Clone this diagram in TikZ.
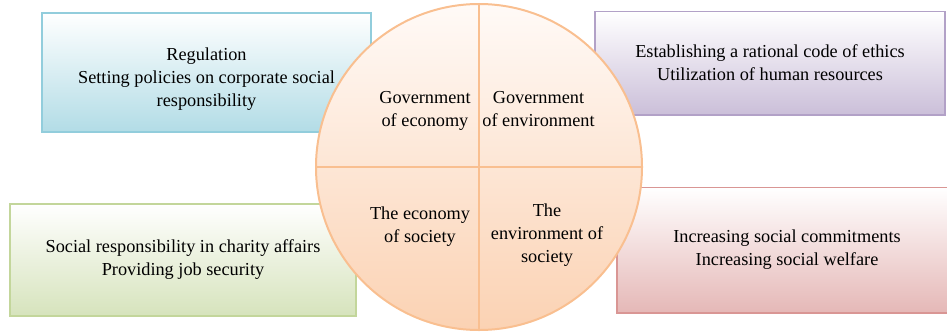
\documentclass[tikz,border=0pt]{standalone}
\usepackage{fontspec}
\setmainfont{Liberation Serif}
\usetikzlibrary{positioning}

\definecolor{regEdge}{HTML}{92CDDC}
\definecolor{regFill}{HTML}{B2DCE6}
\definecolor{ethEdge}{HTML}{B2A1C7}
\definecolor{ethFill}{HTML}{CBBFD9}
\definecolor{chaEdge}{HTML}{C3D69B}
\definecolor{chaFill}{HTML}{D6E3BC}
\definecolor{welEdge}{HTML}{D99694}
\definecolor{welFill}{HTML}{E5B8B7}
\definecolor{wheelEdge}{HTML}{F9BF90}
\definecolor{wheelTop}{HTML}{FFFAF7}
\definecolor{wheelBot}{HTML}{FBD2B3}

\begin{document}
\begin{tikzpicture}[
    x=0.03cm, y=-0.03cm,
    txt/.style={font=\fontsize{15.6}{19.6}\selectfont, align=center},
    infobox/.style={rectangle, line width=1.7pt, top color=white, txt, inner sep=0pt},
    quarter/.style={txt, inner sep=0pt}
]
    \useasboundingbox (0,0) rectangle (947,331);

    % --- OUTER BOXES ---
    \node[infobox, draw=regEdge, bottom color=regFill, minimum width=9.87cm, minimum height=3.57cm]
        (regul) at (206.5,72.5) {};
    \node[txt] (regulTxt) at (206.5,79) {Regulation\\Setting policies on corporate social\\responsibility};
    \node[infobox, draw=ethEdge, bottom color=ethFill, minimum width=10.5cm, minimum height=3.09cm]
        (ethics) at (770,63) {Establishing a rational code of ethics\\Utilization of human resources};
    \node[infobox, draw=chaEdge, bottom color=chaFill, minimum width=10.38cm, minimum height=3.36cm]
        (charity) at (183,260) {Social responsibility in charity affairs\\Providing job security};
    \node[infobox, draw=welEdge, bottom color=welFill, minimum width=10.2cm, minimum height=3.75cm]
        (welfare) at (787,250) {Increasing social commitments\\Increasing social welfare};

    % --- CENTRAL WHEEL ---
    \node[circle, draw=wheelEdge, line width=1.7pt, top color=wheelTop, bottom color=wheelBot,
        minimum size=9.78cm, inner sep=0pt] (wheel) at (479,167) {};
    \draw[wheelEdge, line width=1.7pt] (wheel.north) -- (wheel.south);
    \draw[wheelEdge, line width=1.7pt] (wheel.west) -- (wheel.east);

    % quadrant labels
    \node[quarter] (govEco) at (425,110.5) {Government\\of economy};
    \node[quarter] (govEnv) at (538.5,109.5) {Government\\of environment};
    \node[quarter] (socEco) at (420,226.5) {The economy\\of society};
    \node[quarter] (socEnv) at (547,235.5) {The\\environment of\\society};
\end{tikzpicture}
\end{document}
